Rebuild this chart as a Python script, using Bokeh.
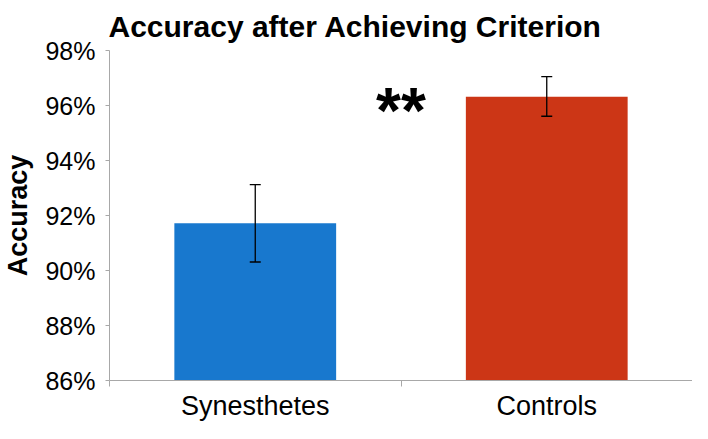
from bokeh.plotting import figure
from bokeh.models import (ColumnDataSource, Range1d, FixedTicker, Whisker, TeeHead, Label)
from bokeh.embed import file_html
from bokeh.resources import INLINE

# ---- data ----
categories = ["Synesthetes", "Controls"]
accuracy = [91.72, 96.32]          # percent
err_lower = [90.31, 95.61]
err_upper = [93.12, 97.05]
bar_colors = ["#1878CE", "#CC3616"]
y_ticks = [86, 88, 90, 92, 94, 96, 98]
y_tick_labels = ["86%", "88%", "90%", "92%", "94%", "96%", "98%"]
title_text = "Accuracy after Achieving Criterion"
significance = "**"

FONT = "Liberation Sans"
AXIS_GRAY = "#A8A8A8"

xs = [i + 0.5 for i in range(len(categories))]
src = ColumnDataSource(dict(x=xs, top=accuracy, lower=err_lower, upper=err_upper,
                            color=bar_colors, cat=categories))

p = figure(width=692, height=423, x_range=Range1d(0, len(categories)),
           y_range=Range1d(y_ticks[0], y_ticks[-1]),
           output_backend="svg", toolbar_location=None,
           min_border_left=100, min_border_right=0, min_border_top=0,
           min_border_bottom=0)
p.outline_line_color = None
p.background_fill_color = "white"
p.border_fill_color = "white"
p.xgrid.visible = False
p.ygrid.visible = False

p.title.text = title_text
p.title.text_font = FONT
p.title.text_font_size = "30px"
p.title.text_font_style = "bold"
p.title.text_color = "black"
p.title.align = "left"
p.title.offset = -1
p.title.standoff = 15

p.vbar(x="x", top="top", bottom=y_ticks[0], width=0.555, color="color", source=src,
       line_color=None)

wh = Whisker(base="x", lower="lower", upper="upper", source=src,
             line_color="black", line_width=1.3,
             upper_head=TeeHead(size=11, line_color="black", line_width=1.3),
             lower_head=TeeHead(size=11, line_color="black", line_width=1.3))
wh.level = "overlay"
p.add_layout(wh)

p.add_layout(Label(x=1.0, y=95.8, text=significance, text_align="center",
                   text_baseline="alphabetic", text_font=FONT,
                   text_font_size="64px", text_font_style="bold", text_color="black"))

# y axis
ya = p.yaxis[0]
ya.ticker = FixedTicker(ticks=y_ticks, minor_ticks=[])
ya.major_label_overrides = {t: l for t, l in zip(y_ticks, y_tick_labels)}
ya.axis_label = "Accuracy"
ya.axis_label_text_font = FONT
ya.axis_label_text_font_size = "27px"
ya.axis_label_text_font_style = "bold"
ya.axis_label_text_color = "black"
ya.axis_label_standoff = 9
ya.major_label_text_font = FONT
ya.major_label_text_font_size = "25px"
ya.major_label_text_color = "black"
ya.major_label_standoff = 10
ya.axis_line_color = AXIS_GRAY
ya.major_tick_line_color = AXIS_GRAY
ya.major_tick_out = 4
ya.major_tick_in = 0
ya.minor_tick_line_color = None

# x axis: boundary ticks as minor ticks, category names at bar centres
xa = p.xaxis[0]
xa.ticker = FixedTicker(ticks=xs, minor_ticks=list(range(len(categories) + 1)))
xa.major_label_overrides = {x: c for x, c in zip(xs, categories)}
xa.major_label_text_font = FONT
xa.major_label_text_font_size = "27px"
xa.major_label_text_color = "black"
xa.major_label_standoff = 4
xa.axis_line_color = AXIS_GRAY
xa.major_tick_out = 0
xa.major_tick_in = 0
xa.minor_tick_line_color = AXIS_GRAY
xa.minor_tick_out = 6
xa.minor_tick_in = 0

open("out.html", "w").write(file_html(p, INLINE))
